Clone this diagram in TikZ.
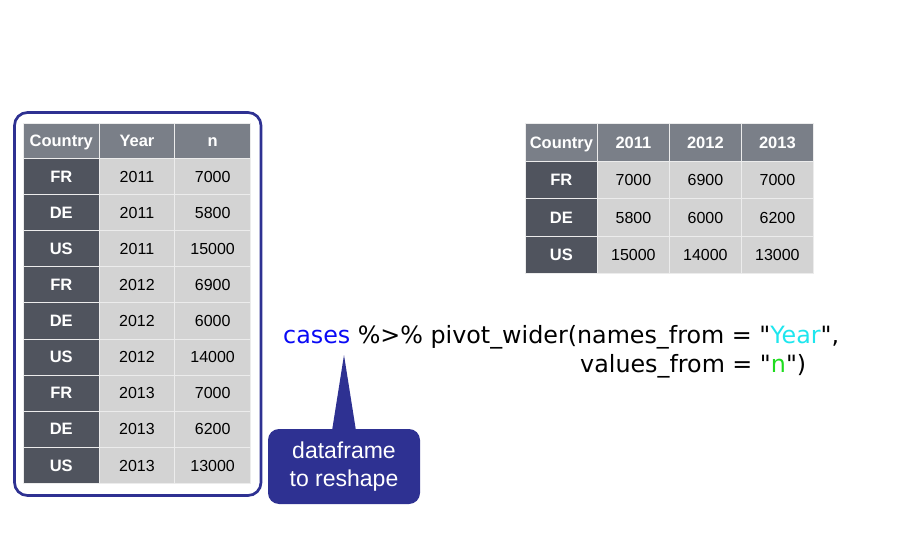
\documentclass[tikz,border=0pt]{standalone}
\usepackage{fontspec}
\setmainfont{Liberation Sans}
\newfontfamily\codefont{DejaVu Sans}
\definecolor{headgray}{HTML}{7A7F88}
\definecolor{keygray}{HTML}{50545E}
\definecolor{cellgray}{HTML}{D3D3D3}
\definecolor{gridline}{HTML}{ECECEC}
\definecolor{navy}{HTML}{2E3192}
\definecolor{casesblue}{HTML}{0A0AF5}
\definecolor{yearcyan}{HTML}{1EE6EE}
\definecolor{ngreen}{HTML}{1EDC1E}
\tikzset{
  cell/.style={draw=gridline, line width=0.8pt, anchor=north west, inner sep=0pt,
    text height=11.5pt, text depth=0pt, font=\fontsize{16}{16}\selectfont},
  headcell/.style={cell, fill=headgray, text=white, font=\fontsize{16.5}{16.5}\selectfont\bfseries},
  keycell/.style={headcell, fill=keygray},
  bodycell/.style={cell, fill=cellgray, text=black},
  codeline/.style={anchor=base west, inner sep=0pt, font=\codefont\fontsize{23.8}{28}\selectfont},
  callout/.style={fill=navy, text=white, rounded corners=11pt, minimum width=152pt,
    minimum height=75pt, align=center, font=\fontsize{23}{28.5}\selectfont}
}
\begin{document}
\begin{tikzpicture}[x=1pt, y=-1pt]
    \useasboundingbox (0,0) rectangle (924,548);

    % Long table
    \foreach \h [count=\c] in {Country,Year,n}
        \node[headcell, minimum width=75.7pt, minimum height=35pt] (L-0-\c) at ({23+(\c-1)*75.7},123) {\h};
    \foreach \k/\yr/\v [count=\r] in {FR/2011/7000, DE/2011/5800, US/2011/15000,
        FR/2012/6900, DE/2012/6000, US/2012/14000, FR/2013/7000, DE/2013/6200, US/2013/13000} {
        \node[keycell, minimum width=75.7pt, minimum height=36.11pt] (L-\r-1) at (23,{158+(\r-1)*36.11}) {\k};
        \node[bodycell, minimum width=75.7pt, minimum height=36.11pt] (L-\r-2) at (98.7,{158+(\r-1)*36.11}) {\yr};
        \node[bodycell, minimum width=75.7pt, minimum height=36.11pt] (L-\r-3) at (174.4,{158+(\r-1)*36.11}) {\v};
    }
    \draw[navy, line width=2.7pt, rounded corners=13pt] (14.5,112.5) rectangle (261,495.5);

    % Wide table
    \foreach \h [count=\c] in {Country,2011,2012,2013}
        \node[headcell, minimum width=72pt, minimum height=38pt] (W-0-\c) at ({525+(\c-1)*72},123) {\h};
    \foreach \k/\a/\b/\d [count=\r] in {FR/7000/6900/7000, DE/5800/6000/6200, US/15000/14000/13000} {
        \node[keycell, minimum width=72pt, minimum height=37.33pt] (W-\r-1) at (525,{161+(\r-1)*37.33}) {\k};
        \node[bodycell, minimum width=72pt, minimum height=37.33pt] (W-\r-2) at (597,{161+(\r-1)*37.33}) {\a};
        \node[bodycell, minimum width=72pt, minimum height=37.33pt] (W-\r-3) at (669,{161+(\r-1)*37.33}) {\b};
        \node[bodycell, minimum width=72pt, minimum height=37.33pt] (W-\r-4) at (741,{161+(\r-1)*37.33}) {\d};
    }

    % Code
    \node[codeline] (line1) at (283,343) {{\color{casesblue}cases} \%>\% pivot\_wider(names\_from = "{\color{yearcyan}Year}",};
    \node[codeline] (line2) at (580,372) {values\_from = "{\color{ngreen}n}")};

    % Callout
    \node[callout] (callout) at (344,466.5) {dataframe\\to reshape};
    \coordinate (tip) at (344,355);
    \fill[navy] ([xshift=-12pt, yshift=-2pt]callout.north) -- (tip) -- ([xshift=12pt, yshift=-2pt]callout.north) -- cycle;
\end{tikzpicture}
\end{document}
